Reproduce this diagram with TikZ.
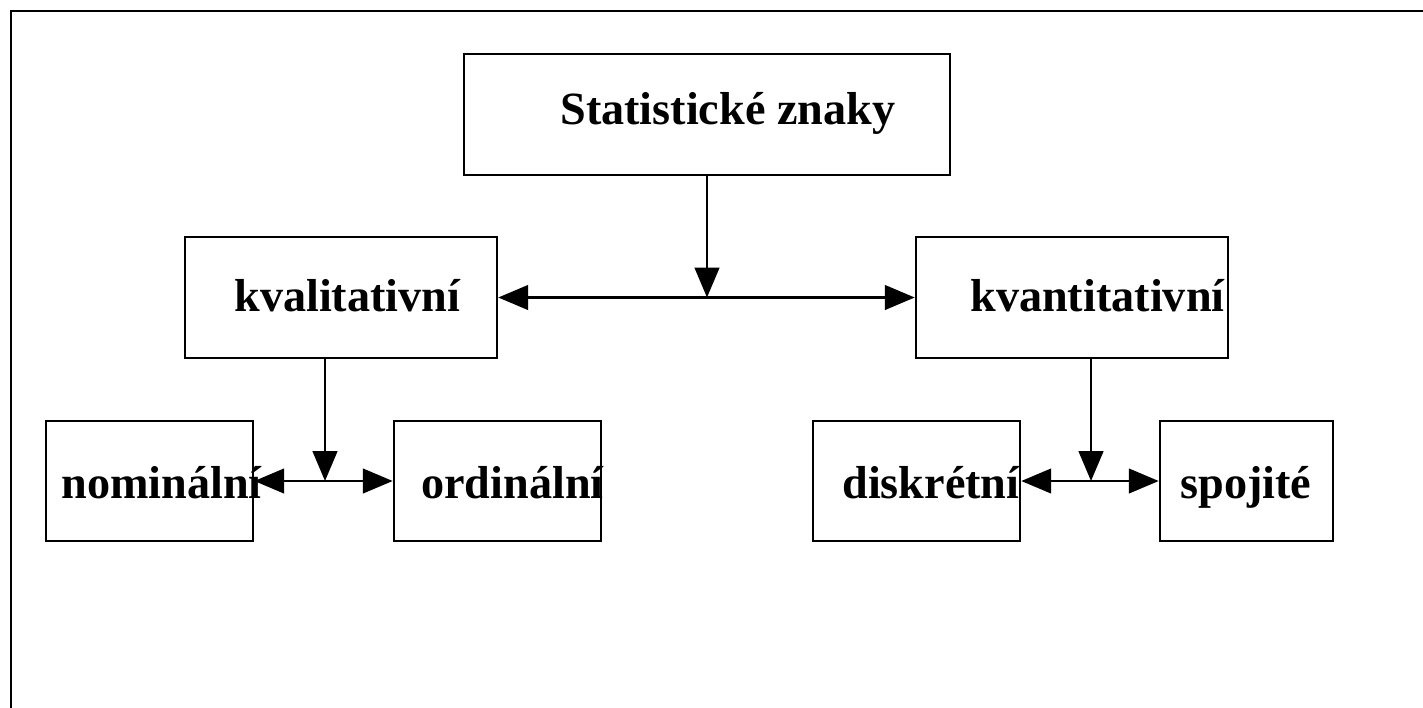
\documentclass[tikz,border=0pt]{standalone}
\usepackage{fontspec}
\setmainfont{Liberation Serif}
\usetikzlibrary{arrows.meta}
\begin{document}
\begin{tikzpicture}[x=0.02cm, y=-0.02cm,
  box/.style={draw, line width=1.5pt, rectangle, inner sep=0pt, minimum height=2.42cm},
  lbl/.style={anchor=base west, inner sep=0pt, font=\fontsize{26.3}{30}\selectfont\bfseries},
  conn/.style={line width=1.4pt, -{Triangle[length=17pt,width=14pt]}},
  dconn/.style={line width=1.4pt, {Triangle[length=17pt,width=14pt]}-{Triangle[length=17pt,width=14pt]}}]
\useasboundingbox (0,0) rectangle (1423,707);
\clip (0,0) rectangle (1423,707);
% outer frame
\draw[line width=1.7pt] (11,730) -- (11,11) -- (1440,11);
% boxes
\node[box, minimum width=9.72cm] (stat) at (707,114.5) {};
\node[box, minimum width=6.24cm] (kval) at (341,297.5) {};
\node[box, minimum width=6.24cm] (kvant) at (1072,297.5) {};
\node[box, minimum width=4.14cm, minimum height=2.4cm] (nom) at (149.5,481) {};
\node[box, minimum width=4.14cm, minimum height=2.4cm] (ord) at (497.5,481) {};
\node[box, minimum width=4.14cm, minimum height=2.4cm] (disk) at (916.5,481) {};
\node[box, minimum width=3.46cm, minimum height=2.4cm] (spoj) at (1246.5,481) {};
% labels
\node[lbl] (tstat) at (560,124) {Statistické znaky};
\node[lbl] (tkval) at (234,311) {kvalitativní};
\node[lbl] (tkvant) at (970,311) {kvantitativní};
\node[lbl] (tnom) at (61,498) {nominální};
\node[lbl] (tord) at (421,498) {ordinální};
\node[lbl] (tdisk) at (842,498) {diskrétní};
\node[lbl] (tspoj) at (1180,498) {spojité};
% junctions
\coordinate (j1) at (707,297.5);
\coordinate (j2) at (325,481);
\coordinate (j3) at (1091,481);
% connectors
\draw[conn] (stat.south) -- (j1);
\draw[dconn] (kval.east) -- (kvant.west);
\draw[conn] (j2 |- kval.south) -- (j2);
\draw[dconn] (nom.east) -- (ord.west);
\draw[conn] (j3 |- kvant.south) -- (j3);
\draw[dconn] (disk.east) -- (spoj.west);
\end{tikzpicture}
\end{document}
